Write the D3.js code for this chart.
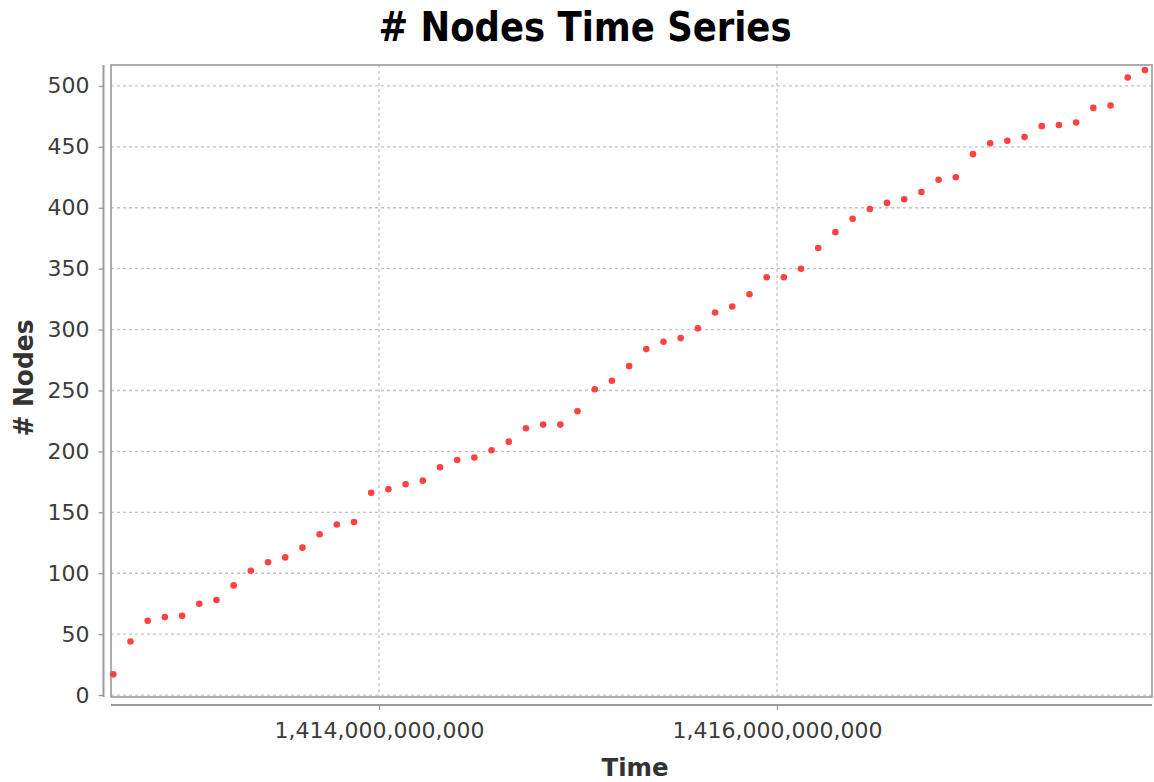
<!DOCTYPE html>
<html>
<head>
<meta charset="utf-8">
<script src="https://cdn.jsdelivr.net/npm/d3@7"></script>
<style>
  html, body { margin: 0; padding: 0; background: #ffffff; }
  svg { display: block; }
</style>
</head>
<body>
<svg id="chart" width="1154" height="782"></svg>
<script>
// ---- data ----
const times = [
  1412664800000, 1412751200000, 1412837600000, 1412924000000, 1413010400000,
  1413096800000, 1413183200000, 1413269600000, 1413356000000, 1413442400000,
  1413528800000, 1413615200000, 1413701600000, 1413788000000, 1413874400000,
  1413960800000, 1414047200000, 1414133600000, 1414220000000, 1414306400000,
  1414392800000, 1414479200000, 1414565600000, 1414652000000, 1414738400000,
  1414824800000, 1414911200000, 1414997600000, 1415084000000, 1415170400000,
  1415256800000, 1415343200000, 1415429600000, 1415516000000, 1415602400000,
  1415688800000, 1415775200000, 1415861600000, 1415948000000, 1416034400000,
  1416120800000, 1416207200000, 1416293600000, 1416380000000, 1416466400000,
  1416552800000, 1416639200000, 1416725600000, 1416812000000, 1416898400000,
  1416984800000, 1417071200000, 1417157600000, 1417244000000, 1417330400000,
  1417416800000, 1417503200000, 1417589600000, 1417676000000, 1417762400000,
  1417848800000
];
const nodes = [
  17, 44, 61, 64, 65, 75, 78, 90, 102, 109,
  113, 121, 132, 140, 142, 166, 169, 173, 176, 187,
  193, 195, 201, 208, 219, 222, 222, 233, 251, 258,
  270, 284, 290, 293, 301, 314, 319, 329, 343, 343,
  350, 367, 380, 391, 399, 404, 407, 413, 423, 425,
  444, 453, 455, 458, 467, 468, 470, 482, 484, 507,
  513
];
const xTicks = [1414000000000, 1416000000000];
const yTicks = [0, 50, 100, 150, 200, 250, 300, 350, 400, 450, 500];
const xDomain = [1412653300000, 1417884400000];
const yDomain = [-1.6, 517.2];
const title = "# Nodes Time Series";
const xLabel = "Time";
const yLabel = "# Nodes";

// ---- layout ----
const plot = { left: 111, right: 1152, top: 65, bottom: 697 };
const svg = d3.select("#chart");

const x = d3.scaleLinear().domain(xDomain).range([plot.left, plot.right]);
const y = d3.scaleLinear().domain(yDomain).range([plot.bottom, plot.top]);

const font = "'DejaVu Sans', Verdana, sans-serif";
const gridColor = "#c4c4c4";
const axisColor = "#9a9a9a";
const textColor = "#3c3c3c";

// gridlines
const grid = svg.append("g");
grid.selectAll("line.h").data(yTicks).join("line")
  .attr("x1", plot.left).attr("x2", plot.right)
  .attr("y1", d => y(d)).attr("y2", d => y(d))
  .attr("stroke", gridColor).attr("stroke-width", 1.3)
  .attr("stroke-dasharray", "3,3");
grid.selectAll("line.v").data(xTicks).join("line")
  .attr("x1", d => x(d)).attr("x2", d => x(d))
  .attr("y1", plot.top).attr("y2", plot.bottom)
  .attr("stroke", gridColor).attr("stroke-width", 1.3)
  .attr("stroke-dasharray", "3,3");

// plot border
svg.append("rect")
  .attr("x", plot.left).attr("y", plot.top)
  .attr("width", plot.right - plot.left).attr("height", plot.bottom - plot.top)
  .attr("fill", "none").attr("stroke", axisColor).attr("stroke-width", 1.6);

// y axis (offset left)
const yAxis = d3.axisLeft(y).tickValues(yTicks).tickSize(5).tickPadding(9)
  .tickFormat(d3.format(",d"));
const gy = svg.append("g").attr("transform", `translate(${plot.left - 7.5},0)`).call(yAxis);
gy.select(".domain").attr("stroke", axisColor).attr("stroke-width", 2)
  .attr("d", `M0,${plot.top}V${plot.bottom}`);
gy.selectAll(".tick line").attr("stroke", axisColor).attr("stroke-width", 1.3);
gy.selectAll(".tick text").attr("fill", textColor)
  .style("font-family", font).style("font-size", "22px");

// x axis (offset below)
const xAxis = d3.axisBottom(x).tickValues(xTicks).tickSize(5).tickPadding(12)
  .tickFormat(d3.format(",d"));
const gx = svg.append("g").attr("transform", `translate(0,${plot.bottom + 8})`).call(xAxis);
gx.select(".domain").attr("stroke", axisColor).attr("stroke-width", 2)
  .attr("d", `M${plot.left},0H${plot.right}`);
gx.selectAll(".tick line").attr("stroke", axisColor).attr("stroke-width", 1.3);
gx.selectAll(".tick text").attr("fill", textColor)
  .style("font-family", font).style("font-size", "22px");

// points
svg.append("g").selectAll("circle").data(times.map((t, i) => [t, nodes[i]])).join("circle")
  .attr("cx", d => x(d[0])).attr("cy", d => y(d[1]))
  .attr("r", 3.3).attr("fill", "#ff4242");

// title
svg.append("text")
  .attr("x", 585).attr("y", 41)
  .attr("text-anchor", "middle")
  .attr("textLength", 413).attr("lengthAdjust", "spacingAndGlyphs")
  .style("font-family", font).style("font-weight", "bold").style("font-size", "40px")
  .attr("fill", "#000").text(title);

// x label
svg.append("text")
  .attr("x", 635).attr("y", 776)
  .attr("text-anchor", "middle")
  .attr("textLength", 67).attr("lengthAdjust", "spacingAndGlyphs")
  .style("font-family", font).style("font-weight", "bold").style("font-size", "25px")
  .attr("fill", "#333").text(xLabel);

// y label
svg.append("text")
  .attr("transform", "translate(33,378) rotate(-90)")
  .attr("text-anchor", "middle")
  .attr("textLength", 117).attr("lengthAdjust", "spacingAndGlyphs")
  .style("font-family", font).style("font-weight", "bold").style("font-size", "27px")
  .attr("fill", "#333").text(yLabel);
</script>
</body>
</html>
